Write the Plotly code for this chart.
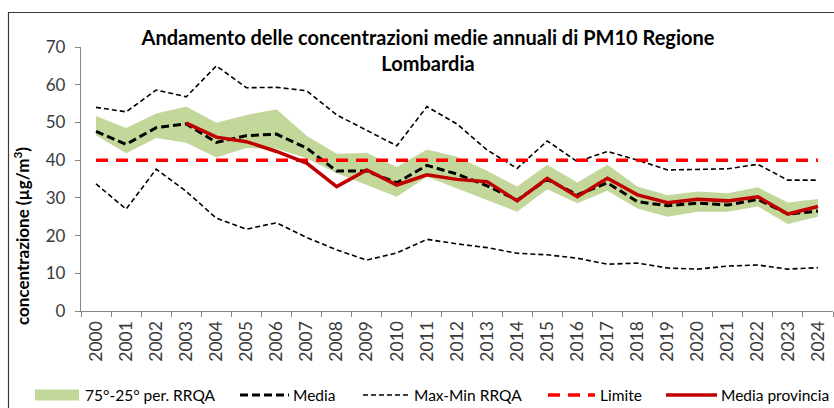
import plotly.graph_objects as go

# Years on the category axis
years = [str(y) for y in range(2000, 2025)]

# 75th and 25th percentile of the RRQA stations (band)
p75_rrqa = [51.7, 48.5, 52.4, 54.2, 49.9, 52.0, 53.5, 46.5, 41.7, 41.9, 38.2, 42.8, 40.9,
            37.2, 33.0, 38.8, 34.1, 38.8, 33.0, 30.7, 31.7, 31.2, 32.8, 28.8, 29.7]
p25_rrqa = [46.6, 41.8, 45.9, 44.6, 40.7, 43.2, 43.0, 40.5, 36.5, 33.4, 30.3, 35.6, 32.5,
            29.4, 26.3, 32.3, 28.6, 31.9, 27.2, 25.0, 26.3, 26.3, 27.7, 23.1, 25.0]

# Regional mean
media = [47.6, 44.2, 48.6, 49.6, 44.7, 46.5, 46.9, 43.2, 37.1, 37.1, 34.0, 38.6, 36.3,
         33.2, 29.4, 34.9, 30.8, 34.0, 29.0, 27.9, 28.6, 28.1, 29.6, 25.7, 26.5]

# Max and min over the RRQA stations
max_rrqa = [54.0, 52.8, 58.6, 56.8, 65.0, 59.2, 59.3, 58.4, 52.0, 48.0, 43.8, 54.2, 49.6,
            42.7, 37.8, 45.1, 39.6, 42.3, 40.0, 37.4, 37.6, 37.7, 38.9, 34.7, 34.7]
min_rrqa = [33.7, 27.0, 37.6, 31.7, 24.6, 21.7, 23.4, 19.5, 16.2, 13.5, 15.4, 19.0, 17.8,
            16.8, 15.3, 14.9, 14.0, 12.4, 12.7, 11.4, 11.1, 11.9, 12.2, 11.1, 11.5]

# Annual limit value
limite = [40] * len(years)

# Provincial mean (series starts in 2003)
media_provincia = [None, None, None, 49.8, 46.1, 44.9, 42.3, 39.2, 33.0, 37.4, 33.4, 36.1,
                   34.9, 34.3, 29.2, 35.2, 30.3, 35.2, 30.8, 28.7, 29.6, 29.2, 30.3, 25.7, 27.7]

# Legend labels
legend_labels = ["75°-25° per. RRQA", "Media", "Max-Min RRQA", "Limite", "Media provincia"]

FONT = "Lato"
AXIS_GREY = "#868686"
TEXT_GREY = "#3a3a3a"

BAND = "#C4D79B"
MEDIA_STYLE = dict(color="black", width=3, dash="8px,4px")
MAXMIN_STYLE = dict(color="black", width=1.6, dash="5px,3px")
LIMITE_STYLE = dict(color="#FF0000", width=3.5, dash="12px,8px")
PROV_STYLE = dict(color="#C00000", width=3.5)

fig = go.Figure()

# Percentile band
fig.add_trace(go.Scatter(x=years, y=p25_rrqa, mode="lines", line=dict(width=0),
                         hoverinfo="skip"))
fig.add_trace(go.Scatter(x=years, y=p75_rrqa, mode="lines", line=dict(width=0),
                         fill="tonexty", fillcolor=BAND, name=legend_labels[0]))

# Regional mean
fig.add_trace(go.Scatter(x=years, y=media, mode="lines", name=legend_labels[1],
                         line=MEDIA_STYLE))

# Max / min envelope
fig.add_trace(go.Scatter(x=years, y=max_rrqa, mode="lines", name=legend_labels[2],
                         line=MAXMIN_STYLE))
fig.add_trace(go.Scatter(x=years, y=min_rrqa, mode="lines", name=legend_labels[2],
                         line=MAXMIN_STYLE))

# Limit
fig.add_trace(go.Scatter(x=years, y=limite, mode="lines", name=legend_labels[3],
                         line=LIMITE_STYLE))

# Provincial mean
fig.add_trace(go.Scatter(x=years, y=media_provincia, mode="lines", name=legend_labels[4],
                         line=PROV_STYLE))

L, R, T, B = 81, 1, 47, 97
W, H = 834, 408
pw, ph = W - L - R, H - T - B


def px_x(p):
    return (p - L) / pw


def px_y(p):
    return (H - B - p) / ph


fig.update_layout(
    width=W, height=H,
    margin=dict(l=L, r=R, t=T, b=B, autoexpand=False),
    paper_bgcolor="white", plot_bgcolor="white",
    font=dict(family=FONT, color=TEXT_GREY),
    showlegend=False,
    title=dict(
        text="<b>Andamento delle concentrazioni medie annuali di PM10 Regione<br>Lombardia</b>",
        font=dict(family=FONT, size=20, color="black"),
        x=428 / W, xref="container", xanchor="center",
        y=1 - 45 / H, yref="container", yanchor="top",
    ),
    xaxis=dict(
        type="category", range=[-0.5, len(years) - 0.5], automargin=False,
        showline=True, linecolor=AXIS_GREY, linewidth=1.3,
        ticks="outside", tickson="boundaries", ticklen=5, tickcolor=AXIS_GREY,
        tickwidth=1.3, tickangle=-90, tickfont=dict(size=17.5, color=TEXT_GREY),
        ticklabelstandoff=2, showgrid=False, zeroline=False,
    ),
    yaxis=dict(
        range=[0, 70], dtick=10, automargin=False,
        showline=True, linecolor=AXIS_GREY, linewidth=1.3,
        ticks="outside", ticklen=5, tickcolor=AXIS_GREY, tickwidth=1.3,
        tickfont=dict(size=17, color=TEXT_GREY), ticklabelstandoff=6,
        showgrid=False, zeroline=False,
    ),
)

# y-axis title
fig.add_annotation(
    text="<b>concentrazione (µg/m<sup>3</sup>)</b>",
    xref="paper", yref="paper", x=px_x(22), y=px_y(236),
    xanchor="center", yanchor="middle", textangle=-90, showarrow=False,
    font=dict(family=FONT, size=17, color="black"),
)

# legend row along the bottom: (symbol start, symbol end, text start)
leg_y = px_y(395)
leg_pos = [(35, 79, 83), (240, 289, 291), (363, 409, 412), (548, 595, 598), (666, 717, 719)]
leg_lines = [None, MEDIA_STYLE, MAXMIN_STYLE, LIMITE_STYLE, PROV_STYLE]
for (s0, s1, tx), label, style in zip(leg_pos, legend_labels, leg_lines):
    if style is None:
        fig.add_shape(type="rect", xref="paper", yref="paper",
                      x0=px_x(s0), x1=px_x(s1), y0=px_y(400.5), y1=px_y(389.5),
                      line=dict(width=0), fillcolor=BAND)
    else:
        fig.add_shape(type="line", xref="paper", yref="paper",
                      x0=px_x(s0), x1=px_x(s1), y0=leg_y, y1=leg_y, line=style)
    fig.add_annotation(text=label, xref="paper", yref="paper", x=px_x(tx), y=leg_y,
                       xanchor="left", yanchor="middle", showarrow=False,
                       font=dict(family=FONT, size=15.5, color="black"))

# chart frame
fig.add_shape(type="rect", xref="paper", yref="paper",
              x0=px_x(8.5), x1=px_x(W + 20), y0=px_y(H + 20), y1=px_y(12.5),
              line=dict(color="#3a3a3a", width=1.2), fillcolor="rgba(0,0,0,0)", layer="below")

fig.write_html("out.html")
